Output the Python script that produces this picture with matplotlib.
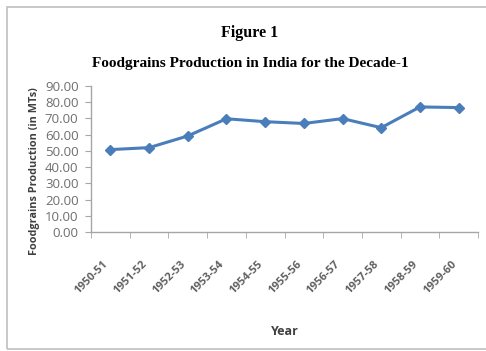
import matplotlib
matplotlib.use("Agg")
import matplotlib.pyplot as plt
from matplotlib.patches import Rectangle

# Foodgrains production (million tonnes) by crop year
years = ["1950-51", "1951-52", "1952-53", "1953-54", "1954-55",
         "1955-56", "1956-57", "1957-58", "1958-59", "1959-60"]
production = [50.8, 52.0, 59.2, 69.8, 68.0, 66.9, 69.9, 64.3, 77.1, 76.7]
y_ticks = [0, 10, 20, 30, 40, 50, 60, 70, 80, 90]

fig = plt.figure(figsize=(4.86, 3.51), dpi=100)
fig.patch.set_facecolor("white")

# light chart-area border
fig.patches.append(Rectangle((7 / 486, 2 / 351), 1.0, 342 / 351, transform=fig.transFigure,
                             fill=False, edgecolor="#bfbfbf", linewidth=1.2))

ax = fig.add_axes([91 / 486, 1 - 232 / 351, 387 / 486, 146 / 351])

x = list(range(len(years)))
ax.plot(x, production, color="#4a7ebb", linewidth=2.2, marker="D",
        markersize=5.5, markerfacecolor="#4a7ebb", markeredgecolor="#4a7ebb")

ax.set_xlim(-0.5, len(years) - 0.5)
ax.set_ylim(0, 90)
ax.set_yticks(y_ticks)
ax.set_yticklabels([f"{v:.2f}" for v in y_ticks], fontsize=9.5,
                   family="Open Sans", color="#6e6e6e")

# category labels centred, tick marks between categories
ax.set_xticks(x)
ax.set_xticklabels(years, rotation=45, ha="right", fontsize=8,
                   family="Open Sans", fontweight="bold", color="#606060")
ax.set_xticks([i - 0.5 for i in range(len(years) + 1)], minor=True)
ax.tick_params(axis="x", which="major", length=0, pad=19)
ax.tick_params(axis="x", which="minor", length=4, color="#a6a6a6", direction="out")
ax.tick_params(axis="y", length=4, color="#a6a6a6", direction="out", pad=5)

for side in ["top", "right"]:
    ax.spines[side].set_visible(False)
for side in ["left", "bottom"]:
    ax.spines[side].set_color("#a6a6a6")
    ax.spines[side].set_linewidth(1.0)

ax.set_ylabel("Foodgrains Production (in MTs)", fontsize=7.8, family="Open Sans",
              fontweight="bold", color="#404040", va="center")
ax.yaxis.set_label_coords(-0.145, 0.418)
ax.set_xlabel("Year", fontsize=9, family="Open Sans", fontweight="bold",
              color="#404040", labelpad=21)

fig.text(250 / 486, 1 - 33 / 351, "Figure 1", ha="center", va="center",
         family="Liberation Serif", fontweight="bold", fontsize=11.5)
fig.text(250 / 486, 1 - 63 / 351, "Foodgrains Production in India for the Decade-1",
         ha="center", va="center", family="Liberation Serif",
         fontweight="bold", fontsize=11)

fig.savefig("out.png", dpi=100, facecolor="white")
